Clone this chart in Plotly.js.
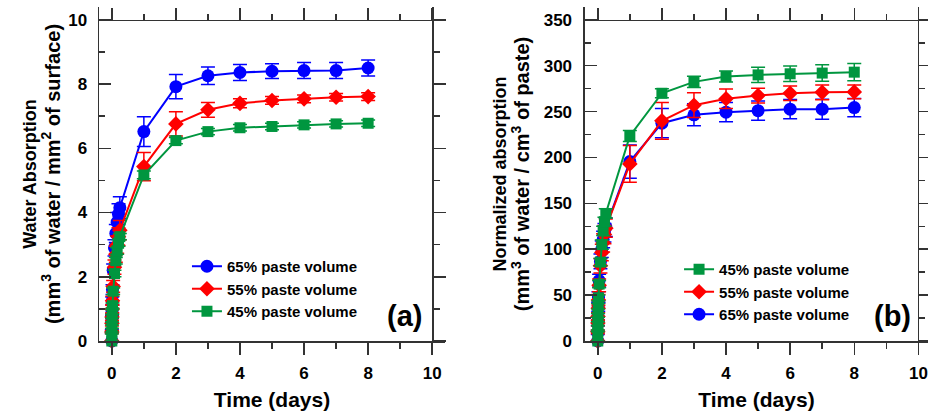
<!DOCTYPE html>
<html>
<head>
<meta charset="utf-8">
<script src="https://cdn.plot.ly/plotly-3.0.1.min.js"></script>
<style>html,body{margin:0;padding:0;background:#fff;}#chart{width:928px;height:414px;}</style>
</head>
<body>
<div id="chart"></div>
<script>
// Time in days (1, 5, 10, 20, 30 min, 1-6 h, then 1-8 days)
const timeDays = [0, 0.0007, 0.0035, 0.0069, 0.0139, 0.0208, 0.0417, 0.0833, 0.125, 0.1667, 0.2083, 0.25, 1, 2, 3, 4, 5, 6, 7, 8];

// Panel (a): water absorption, mm3 of water / mm2 of surface
const absorption65 = [0, 0.3, 0.65, 0.9, 1.25, 1.6, 2.2, 2.9, 3.35, 3.7, 3.95, 4.15, 6.52, 7.92, 8.26, 8.36, 8.40, 8.42, 8.42, 8.50];
const absorption65Err = [0, 0.05, 0.08, 0.1, 0.12, 0.15, 0.2, 0.25, 0.28, 0.3, 0.32, 0.34, 0.46, 0.38, 0.27, 0.25, 0.23, 0.25, 0.25, 0.25];
const absorption55 = [0, 0.28, 0.55, 0.75, 1.0, 1.25, 1.7, 2.3, 2.7, 3.0, 3.25, 3.45, 5.43, 6.76, 7.20, 7.40, 7.49, 7.54, 7.59, 7.61];
const absorption55Err = [0, 0.05, 0.08, 0.1, 0.12, 0.14, 0.18, 0.22, 0.25, 0.27, 0.28, 0.3, 0.44, 0.38, 0.23, 0.14, 0.12, 0.12, 0.12, 0.12];
const absorption45 = [0, 0.25, 0.45, 0.65, 0.9, 1.1, 1.55, 2.1, 2.5, 2.8, 3.05, 3.25, 5.17, 6.24, 6.52, 6.64, 6.68, 6.73, 6.76, 6.78];
const absorption45Err = [0, 0.03, 0.05, 0.06, 0.07, 0.08, 0.1, 0.1, 0.1, 0.1, 0.1, 0.1, 0.12, 0.1, 0.1, 0.1, 0.1, 0.1, 0.1, 0.1];

// Panel (b): normalized absorption, mm3 of water / cm3 of paste
const normalized45 = [0, 11, 19, 28, 38, 47, 62, 86, 105, 120, 130, 139, 223.5, 270, 282.4, 288.2, 290, 291.2, 292, 293];
const normalized45Err = [0, 1, 2, 2, 3, 3, 4, 4, 5, 5, 5, 5, 6, 5, 6, 6, 8.4, 8.5, 9, 9.5];
const normalized55 = [0, 10, 19.6, 26.8, 35.7, 44.6, 60.7, 82, 96.4, 107, 116, 123, 193, 240, 257, 264, 267.5, 270, 271, 271.5];
const normalized55Err = [0, 2, 3, 4, 5, 6, 7, 8, 9, 10, 10, 10, 20, 20, 13.5, 10.5, 8, 8, 8, 7.6];
const normalized65 = [0, 9, 19.4, 26.9, 37.4, 47.8, 65.8, 86.7, 100, 110.6, 118, 124, 195.5, 237.4, 246.5, 249.4, 251, 252.6, 252.6, 254.4];
const normalized65Err = [0, 2, 3, 4, 5, 6, 7, 8, 9, 9, 10, 10, 18, 16, 12, 10.5, 10.5, 10.5, 11, 10];

const seriesNames = ['65% paste volume', '55% paste volume', '45% paste volume'];

const BLUE = '#0000FF', RED = '#FF0000', GREEN = '#00963F';
const FONT = 'Liberation Sans, Arial, sans-serif';
const AX = '#333333';

function series(x, y, err, name, color, symbol, size, xa, ya, legend) {
  return {
    type: 'scatter', mode: 'lines+markers', x: x, y: y, name: name,
    xaxis: xa, yaxis: ya, legend: legend,
    line: {color: color, width: 2},
    marker: {color: color, symbol: symbol, size: size, line: {width: 0}},
    error_y: {type: 'data', array: err, visible: true, color: color, thickness: 1.5, width: 7},
    cliponaxis: false
  };
}

const traces = [
  series(timeDays, absorption65, absorption65Err, seriesNames[0], BLUE, 'circle', 13, 'x', 'y', 'legend'),
  series(timeDays, absorption55, absorption55Err, seriesNames[1], RED, 'diamond', 12, 'x', 'y', 'legend'),
  series(timeDays, absorption45, absorption45Err, seriesNames[2], GREEN, 'square', 11, 'x', 'y', 'legend'),
  series(timeDays, normalized65, normalized65Err, seriesNames[0], BLUE, 'circle', 13, 'x2', 'y2', 'legend2'),
  series(timeDays, normalized55, normalized55Err, seriesNames[1], RED, 'diamond', 12, 'x2', 'y2', 'legend2'),
  series(timeDays, normalized45, normalized45Err, seriesNames[2], GREEN, 'square', 11, 'x2', 'y2', 'legend2'),
  // empty helpers so the frame axes at x=10 / y=10 are drawn
  {type: 'scatter', x: [], y: [], xaxis: 'x', yaxis: 'y3', showlegend: false, hoverinfo: 'skip'},
  {type: 'scatter', x: [], y: [], xaxis: 'x3', yaxis: 'y', showlegend: false, hoverinfo: 'skip'},
  {type: 'scatter', x: [], y: [], xaxis: 'x2', yaxis: 'y4', showlegend: false, hoverinfo: 'skip'},
  {type: 'scatter', x: [], y: [], xaxis: 'x4', yaxis: 'y2', showlegend: false, hoverinfo: 'skip'}
];

const tickFont = {family: FONT, size: 17, color: '#000', weight: 700};
const titleFont = {family: FONT, size: 18, color: '#000', weight: 700};
const xTitleFont = {family: FONT, size: 21, color: '#000', weight: 700};

function baseAxis(extra) {
  return Object.assign({
    showgrid: false, zeroline: false, showline: true, linecolor: AX, linewidth: 1.5,
    tickcolor: AX, tickwidth: 1.5, ticklen: 12, tickfont: tickFont, automargin: false,
    fixedrange: true
  }, extra);
}

const xRange1 = [-0.4, 10.4], xRange2 = [-0.4, 10.3];
const yRange1 = [0, 10.4], yRange2 = [0, 364];

const layout = {
  width: 928, height: 414,
  margin: {l: 99, r: 0, t: 7, b: 73},
  paper_bgcolor: '#fff', plot_bgcolor: 'rgba(0,0,0,0)',
  font: {family: FONT, color: '#000'},
  showlegend: true,
  xaxis: baseAxis({domain: [0, 0.4174], range: xRange1, anchor: 'y', tick0: 0, dtick: 2, ticks: 'outside',
    minor: {dtick: 1, ticks: 'outside', ticklen: 6, tickcolor: AX, tickwidth: 1.5},
    ticklabelstandoff: 4,
    title: {text: 'Time (days)', font: xTitleFont, standoff: 10}}),
  yaxis: baseAxis({domain: [0, 1], range: yRange1, anchor: 'x', tick0: 0, dtick: 2, ticks: 'inside',
    minor: {dtick: 1, ticks: 'inside', ticklen: 6, tickcolor: AX, tickwidth: 1.5},
    ticklabelstandoff: 7,
    title: {text: 'Water Absorption<br><span style="font-size:20px">(mm<sup>3</sup> of water / mm<sup>2</sup> of surface)</span>', font: titleFont, standoff: 3}}),
  xaxis3: baseAxis({overlaying: 'x', anchor: 'free', position: 0.9615, side: 'top', range: xRange1, tick0: 0, dtick: 2,
    ticks: 'outside', showticklabels: false,
    minor: {dtick: 1, ticks: 'outside', ticklen: 6, tickcolor: AX, tickwidth: 1.5}}),
  yaxis3: baseAxis({overlaying: 'y', anchor: 'free', position: 0.4017, side: 'right', range: yRange1, tick0: 0, dtick: 2,
    ticks: 'outside', showticklabels: false,
    minor: {dtick: 1, ticks: 'outside', ticklen: 6, tickcolor: AX, tickwidth: 1.5}}),
  xaxis2: baseAxis({domain: [0.5862, 1], range: xRange2, anchor: 'y2', tick0: 0, dtick: 2, ticks: 'outside',
    minor: {dtick: 1, ticks: 'outside', ticklen: 6, tickcolor: AX, tickwidth: 1.5},
    ticklabelstandoff: 4,
    title: {text: 'Time (days)', font: xTitleFont, standoff: 10}}),
  yaxis2: baseAxis({domain: [0, 1], range: yRange2, anchor: 'x2', tick0: 0, dtick: 50, ticks: 'inside',
    minor: {dtick: 25, ticks: 'inside', ticklen: 6, tickcolor: AX, tickwidth: 1.5},
    ticklabelstandoff: 8,
    title: {text: 'Normalized absorption<br><span style="font-size:20px">(mm<sup>3</sup> of water / cm<sup>3</sup> of paste)</span>', font: titleFont, standoff: 9}}),
  xaxis4: baseAxis({overlaying: 'x2', anchor: 'free', position: 0.9615, side: 'top', range: xRange2, tick0: 0, dtick: 2,
    ticks: 'outside', showticklabels: false,
    minor: {dtick: 1, ticks: 'outside', ticklen: 6, tickcolor: AX, tickwidth: 1.5}}),
  yaxis4: baseAxis({overlaying: 'y2', anchor: 'free', position: 0.9879, side: 'right', range: yRange2, tick0: 0, dtick: 50,
    ticks: 'outside', showticklabels: false,
    minor: {dtick: 25, ticks: 'outside', ticklen: 6, tickcolor: AX, tickwidth: 1.5}}),
  legend: {x: 0.1061, y: 0.2725, xanchor: 'left', yanchor: 'top', bgcolor: 'rgba(0,0,0,0)',
    font: {family: FONT, size: 15, color: '#000', weight: 700}, traceorder: 'normal', itemclick: false},
  legend2: {x: 0.6997, y: 0.2635, xanchor: 'left', yanchor: 'top', bgcolor: 'rgba(0,0,0,0)',
    font: {family: FONT, size: 15, color: '#000', weight: 700}, traceorder: 'reversed', itemclick: false},
  annotations: [
    {text: '(a)', xref: 'paper', yref: 'paper', x: 0.3691, y: 0.0749, xanchor: 'center', yanchor: 'middle',
      showarrow: false, font: {family: FONT, size: 29, color: '#000', weight: 700}},
    {text: '(b)', xref: 'paper', yref: 'paper', x: 0.9566, y: 0.0749, xanchor: 'center', yanchor: 'middle',
      showarrow: false, font: {family: FONT, size: 29, color: '#000', weight: 700}}
  ]
};

Plotly.newPlot('chart', traces, layout, {displayModeBar: false, staticPlot: true});
</script>
</body>
</html>
